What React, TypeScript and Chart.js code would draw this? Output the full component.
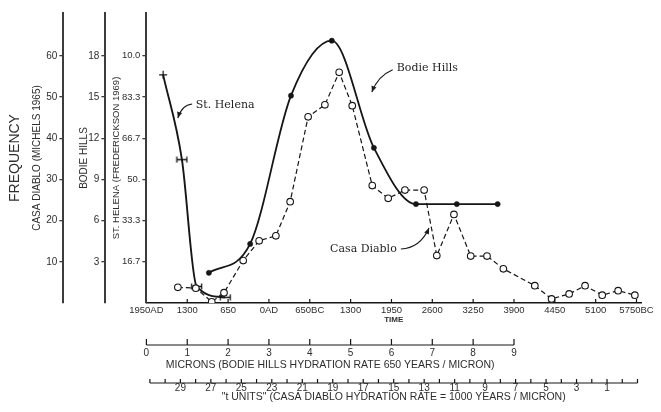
import React, { useEffect, useRef } from 'react';
import { Chart, registerables } from 'chart.js';

Chart.register(...registerables);

// ---------- data ----------
const TIME_TICKS = [0, 1, 2, 3, 4, 5, 6, 7, 8, 9, 10, 11, 12];
const TIME_LABELS = ['1950AD', '1300', '650', '0AD', '650BC', '1300', '1950', '2600', '3250', '3900', '4450', '5100', '5750BC'];
const MICRON_TICKS = [0, 1, 2, 3, 4, 5, 6, 7, 8, 9];
const MICRON_LABELS = ['0', '1', '2', '3', '4', '5', '6', '7', '8', '9'];
const T_UNIT_TICKS = [31, 30, 29, 28, 27, 26, 25, 24, 23, 22, 21, 20, 19, 18, 17, 16, 15, 14, 13, 12, 11, 10, 9, 8, 7, 6, 5, 4, 3, 2, 1, 0, -1];
const T_UNIT_LABELS = ['', '', '29', '', '27', '', '25', '', '23', '', '21', '', '19', '', '17', '', '15', '', '13', '', '11', '', '9', '', '7', '', '5', '', '3', '', '1', '', ''];

const CD_TICKS = [10, 20, 30, 40, 50, 60];
const CD_LABELS = ['10', '20', '30', '40', '50', '60'];
const BH_TICKS = [3, 6, 9, 12, 15, 18];
const BH_LABELS = ['3', '6', '9', '12', '15', '18'];
const SH_TICKS = [100 / 6, 200 / 6, 50, 400 / 6, 500 / 6, 100];
const SH_LABELS = ['16.7', '33.3', '50.', '66.7', '83.3', '10.0'];

const BODIE_X = [1.53, 2.54, 3.54, 4.54, 5.57, 6.6, 7.6, 8.6];
const BODIE_Y = [2.2, 4.3, 15.1, 19.1, 11.3, 7.2, 7.2, 7.2];

const CASA_X = [0.77, 1.21, 1.6, 1.9, 2.37, 2.76, 3.17, 3.52, 3.96, 4.37, 4.72, 5.04, 5.53, 5.92, 6.33, 6.8, 7.11, 7.53, 7.94, 8.34, 8.74, 9.51, 9.92, 10.35, 10.74, 11.16, 11.55, 11.96];
const CASA_Y = [3.8, 3.6, 0.3, 2.5, 10.3, 15.1, 16.3, 24.6, 45.2, 48.1, 56.0, 47.9, 28.5, 25.4, 27.4, 27.4, 11.5, 21.5, 11.4, 11.4, 8.3, 4.2, 1.0, 2.2, 4.2, 1.9, 3.0, 1.9];

const HELENA_X = [0.41, 0.87, 1.23, 1.93];
const HELENA_Y = [92.3, 58.0, 6.7, 2.3];

const X_MAX = 12.11;
const T_MIN = -1.23;
const T_MAX = 31.23;
const CD_MAX = 70.39;
const BH_MAX = CD_MAX * 0.3;
const SH_MAX = (CD_MAX * 5) / 3;

const MICRON_TITLE = 'MICRONS (BODIE HILLS HYDRATION RATE 650 YEARS / MICRON)';
const T_TITLE = '"t UNITS" (CASA DIABLO HYDRATION RATE = 1000 YEARS / MICRON)';

// annotations, in (time-axis value, Casa Diablo frequency) coordinates
const NOTES = [
  { text: 'St. Helena', at: [1.21, 48.1], align: 'left', from: [1.12, 48.3], ctrl: [0.87, 48.1], to: [0.77, 44.9] },
  { text: 'Bodie Hills', at: [6.13, 57.0], align: 'left', from: [6.03, 56.6], ctrl: [5.67, 55.1], to: [5.52, 51.2] },
  { text: 'Casa Diablo', at: [6.13, 13.1], align: 'right', from: [6.23, 13.1], ctrl: [6.7, 13.3], to: [6.92, 18.2] },
];

// ---------- style ----------
const SANS = '"Liberation Sans", Arial, sans-serif';
const SERIF = '"DejaVu Serif", "Liberation Serif", serif';
const INK = '#161616';
const TXT = '#2e2e2e';
const AXIS = '#3c3c3c';

function makeErrorBar(): HTMLCanvasElement {
  const c = document.createElement('canvas');
  c.width = 13;
  c.height = 7;
  const g = c.getContext('2d')!;
  g.strokeStyle = INK;
  g.lineWidth = 1.3;
  g.beginPath();
  g.moveTo(1, 3.5);
  g.lineTo(12, 3.5);
  g.moveTo(1.5, 0.5);
  g.lineTo(1.5, 6.5);
  g.moveTo(11.5, 0.5);
  g.lineTo(11.5, 6.5);
  g.stroke();
  return c;
}

const overlay = {
  id: 'overlay',
  afterDraw(chart: any) {
    const ctx: CanvasRenderingContext2D = chart.ctx;
    const sx = chart.scales.x;
    const sm = chart.scales.xm;
    const st = chart.scales.xt;
    const sy = chart.scales.y;
    ctx.save();
    ctx.strokeStyle = INK;
    ctx.lineWidth = 1.2;

    // inward ticks on the time axis
    ctx.beginPath();
    TIME_TICKS.forEach((v, i) => {
      if (i === 0) return;
      const p = sx.getPixelForValue(v);
      ctx.moveTo(p, sx.top);
      ctx.lineTo(p, sx.top - 4);
    });
    ctx.stroke();

    // micron axis
    const my = sm.top + 18;
    const m0 = sm.getPixelForValue(MICRON_TICKS[0]);
    const m1 = sm.getPixelForValue(MICRON_TICKS[MICRON_TICKS.length - 1]);
    ctx.beginPath();
    ctx.moveTo(m0, my);
    ctx.lineTo(m1, my);
    MICRON_TICKS.forEach((v) => {
      const p = sm.getPixelForValue(v);
      ctx.moveTo(p, my);
      ctx.lineTo(p, my - 6);
    });
    ctx.stroke();
    ctx.fillStyle = TXT;
    ctx.font = `10.5px ${SANS}`;
    ctx.textAlign = 'center';
    ctx.textBaseline = 'middle';
    ctx.fillText(MICRON_TITLE, (m0 + m1) / 2, sm.top + 38);

    // t-units axis
    const ty = st.top + 13;
    const t0 = st.getPixelForValue(T_UNIT_TICKS[0]);
    const t1 = st.getPixelForValue(T_UNIT_TICKS[T_UNIT_TICKS.length - 1]);
    ctx.beginPath();
    ctx.moveTo(t0, ty);
    ctx.lineTo(t1, ty);
    T_UNIT_TICKS.forEach((v) => {
      const p = st.getPixelForValue(v);
      ctx.moveTo(p, ty);
      ctx.lineTo(p, ty - 4);
    });
    ctx.stroke();

    // annotations
    ctx.font = `11px ${SERIF}`;
    ctx.fillStyle = '#1e1e1e';
    ctx.lineWidth = 1.1;
    NOTES.forEach((n) => {
      const px = (v: number[]) => [sx.getPixelForValue(v[0]), sy.getPixelForValue(v[1])];
      const [ax, ay] = px(n.at);
      ctx.textAlign = n.align as CanvasTextAlign;
      ctx.fillText(n.text, ax, ay);
      const [fx, fy] = px(n.from);
      const [cx, cy] = px(n.ctrl);
      const [tx, ty2] = px(n.to);
      ctx.beginPath();
      ctx.moveTo(fx, fy);
      ctx.quadraticCurveTo(cx, cy, tx, ty2);
      ctx.stroke();
      const ang = Math.atan2(ty2 - cy, tx - cx);
      const L = 6;
      const W = 2.6;
      ctx.beginPath();
      ctx.moveTo(tx, ty2);
      ctx.lineTo(tx - L * Math.cos(ang) + W * Math.sin(ang), ty2 - L * Math.sin(ang) - W * Math.cos(ang));
      ctx.lineTo(tx - L * Math.cos(ang) - W * Math.sin(ang), ty2 - L * Math.sin(ang) + W * Math.cos(ang));
      ctx.closePath();
      ctx.fill();
    });
    ctx.restore();
  },
};

function setTicks(values: number[]) {
  return (s: any) => {
    s.ticks = values.map((v) => ({ value: v }));
  };
}

export default function App() {
  const ref = useRef<HTMLCanvasElement>(null);
  useEffect(() => {
    const eb = makeErrorBar();
    const yAxis = (
      weight: number,
      max: number,
      ticks: number[],
      labels: string[],
      width: number,
      title: string,
      titleSize: number,
      padTop: number,
      tickSize: number
    ) => ({
      type: 'linear',
      position: 'left',
      weight,
      min: 0,
      max,
      afterBuildTicks: setTicks(ticks),
      afterFit: (s: any) => {
        s.width = width;
      },
      grid: { display: true, drawOnChartArea: false, drawTicks: true, tickLength: 4, color: AXIS, lineWidth: 1.3 },
      border: { display: true, color: AXIS, width: 2 },
      ticks: {
        padding: 2,
        color: TXT,
        font: { family: SANS, size: tickSize },
        callback: (_v: any, i: number) => labels[i],
      },
      title: { display: true, text: title, color: TXT, font: { family: SANS, size: titleSize }, padding: { top: padTop, bottom: 0 } },
    });

    const chart = new Chart(ref.current!, {
      type: 'line',
      data: {
        datasets: [
          {
            label: 'Bodie Hills',
            data: BODIE_X.map((x, i) => ({ x, y: BODIE_Y[i] })),
            yAxisID: 'yb',
            borderColor: INK,
            borderWidth: 1.8,
            cubicInterpolationMode: 'monotone',
            pointRadius: 2.6,
            pointBackgroundColor: INK,
            pointBorderColor: INK,
            pointBorderWidth: 0.5,
          },
          {
            label: 'Casa Diablo',
            data: CASA_X.map((x, i) => ({ x, y: CASA_Y[i] })),
            yAxisID: 'y',
            borderColor: INK,
            borderWidth: 1.2,
            borderDash: [5, 3],
            tension: 0,
            pointRadius: 3.3,
            pointStyle: 'circle',
            pointBackgroundColor: '#ffffff',
            pointBorderColor: INK,
            pointBorderWidth: 1.1,
          },
          {
            label: 'St. Helena',
            data: HELENA_X.map((x, i) => ({ x, y: HELENA_Y[i] })),
            yAxisID: 'ys',
            borderColor: INK,
            borderWidth: 1.9,
            cubicInterpolationMode: 'monotone',
            pointStyle: ['cross', eb, eb, eb] as any,
            pointRadius: 4,
            pointBorderColor: INK,
            pointBorderWidth: 1.2,
          },
        ],
      } as any,
      options: {
        animation: false,
        responsive: true,
        maintainAspectRatio: false,
        events: [],
        layout: { padding: { left: 0, top: 13, right: 20, bottom: 9 } },
        plugins: {
          legend: { display: false },
          tooltip: { enabled: false },
          title: {
            display: true,
            text: 'FREQUENCY',
            position: 'left',
            fullSize: false,
            color: TXT,
            font: { family: SANS, size: 14, weight: 'normal' },
            padding: { top: 6.6, bottom: 7 },
          },
        },
        scales: {
          x: {
            type: 'linear',
            position: 'bottom',
            weight: 0,
            min: 0,
            max: X_MAX,
            afterBuildTicks: setTicks(TIME_TICKS),
            afterFit: (s: any) => {
              s.height = 24;
            },
            grid: { display: false, drawTicks: false },
            border: { display: true, color: INK, width: 1.5 },
            ticks: {
              autoSkip: false,
              maxRotation: 0,
              padding: 2,
              color: TXT,
              font: { family: SANS, size: 9.5 },
              callback: (_v: any, i: number) => TIME_LABELS[i],
            },
            title: { display: true, text: 'TIME', color: TXT, font: { family: SANS, size: 8, weight: 'bold' }, padding: { top: 0, bottom: 2 } },
          },
          xm: {
            type: 'linear',
            position: 'bottom',
            weight: 1,
            min: 0,
            max: X_MAX,
            afterBuildTicks: setTicks(MICRON_TICKS),
            afterFit: (s: any) => {
              s.height = 43;
            },
            grid: { display: true, drawOnChartArea: false, color: 'rgba(0,0,0,0)', tickLength: 18 },
            border: { display: false },
            ticks: {
              autoSkip: false,
              maxRotation: 0,
              padding: 2,
              color: TXT,
              font: { family: SANS, size: 10 },
              callback: (_v: any, i: number) => MICRON_LABELS[i],
            },
          },
          xt: {
            type: 'linear',
            position: 'bottom',
            weight: 2,
            min: T_MIN,
            max: T_MAX,
            reverse: true,
            afterBuildTicks: setTicks(T_UNIT_TICKS),
            afterFit: (s: any) => {
              s.height = 33;
            },
            grid: { display: true, drawOnChartArea: false, color: 'rgba(0,0,0,0)', tickLength: 12 },
            border: { display: false },
            ticks: {
              autoSkip: false,
              maxRotation: 0,
              padding: 0,
              color: TXT,
              font: { family: SANS, size: 10 },
              callback: (_v: any, i: number) => T_UNIT_LABELS[i],
            },
            title: { display: true, text: T_TITLE, color: TXT, font: { family: SANS, size: 10.5 }, padding: { top: 0, bottom: 0 } },
          },
          y: yAxis(2, CD_MAX, CD_TICKS, CD_LABELS, 33, 'CASA DIABLO (MICHELS 1965)', 10, 0.8, 10),
          yb: yAxis(1, BH_MAX, BH_TICKS, BH_LABELS, 42, 'BODIE HILLS', 10, 14.6, 10),
          ys: yAxis(0, SH_MAX, SH_TICKS, SH_LABELS, 41, 'ST. HELENA (FREDERICKSON 1969)', 9.5, 5, 9.5),
        },
      } as any,
      plugins: [overlay],
    });
    return () => chart.destroy();
  }, []);

  return (
    <div style={{ position: 'fixed', left: 0, top: 0, width: 661, height: 412, background: '#ffffff' }}>
      <canvas ref={ref} />
    </div>
  );
}
